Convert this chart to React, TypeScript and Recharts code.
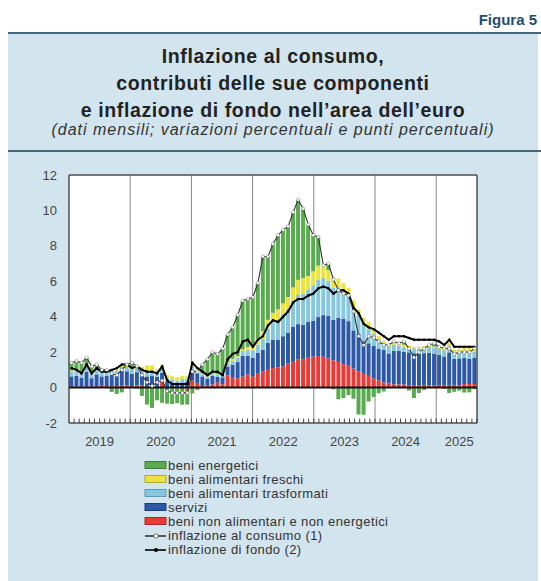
import React from "react";
import {
  ComposedChart,
  Bar,
  Line,
  XAxis,
  YAxis,
  CartesianGrid,
  ReferenceLine,
  ReferenceArea,
} from "recharts";

// anni e mesi coperti dal grafico (gen 2019 - set 2025)
const years = ["2019", "2020", "2021", "2022", "2023", "2024", "2025"];
const monthsPerYear = [12, 12, 12, 12, 12, 12, 9];
const yTicks = [-2, 0, 2, 4, 6, 8, 10, 12];

// contributi (punti percentuali), un valore per mese
const energetici = [
  0.44, 0.5, 0.53, 0.51, 0.36, 0.23, 0.05, 0.02, -0.25, -0.36, -0.27, 0.04,
  0.24, -0.06, -0.47, -0.96, -1.15, -0.72, -0.86, -0.88, -0.9, -0.85, -0.89, -0.83,
  -0.33, -0.13, 0.5, 0.96, 1.19, 1.14, 1.37, 1.54, 1.78, 2.33, 2.74, 2.71,
  2.71, 3.13, 4.21, 3.58, 3.88, 4.18, 4.15, 3.99, 4.25, 4.52, 3.92, 2.9,
  2.03, 1.62, 0.01, 0.36, -0.1, -0.66, -0.59, -0.43, -0.63, -1.52, -1.53, -0.79,
  -0.53, -0.32, -0.22, 0.03, 0.09, 0.0, 0.18, -0.17, -0.59, -0.31, -0.14, 0.02,
  0.19, -0.02, -0.07, -0.31, -0.24, -0.17, -0.28, -0.27, -0.09,
];
const freschi = [
  0.05, 0.06, 0.05, 0.04, 0.05, 0.07, 0.06, 0.08, 0.07, 0.1, 0.11, 0.1,
  0.12, 0.11, 0.16, 0.33, 0.3, 0.14, 0.18, 0.15, 0.16, 0.19, 0.19, 0.14,
  0.07, 0.07, 0.04, 0.03, 0.03, 0.03, 0.07, 0.09, 0.12, 0.09, 0.1, 0.18,
  0.29, 0.34, 0.43, 0.5, 0.54, 0.61, 0.61, 0.67, 0.72, 0.85, 0.88, 0.75,
  0.8, 0.8, 0.7, 0.62, 0.55, 0.55, 0.5, 0.48, 0.42, 0.32, 0.35, 0.36,
  0.3, 0.2, 0.1, 0.08, 0.1, 0.13, 0.14, 0.11, 0.08, 0.1, 0.1, 0.08,
  0.08, 0.13, 0.17, 0.17, 0.17, 0.18, 0.28, 0.3, 0.26,
];
const trasformati = [
  0.28, 0.27, 0.27, 0.26, 0.26, 0.25, 0.26, 0.25, 0.24, 0.22, 0.22, 0.24,
  0.27, 0.28, 0.28, 0.3, 0.3, 0.28, 0.25, 0.24, 0.24, 0.21, 0.2, 0.2,
  0.17, 0.15, 0.13, 0.11, 0.12, 0.12, 0.18, 0.21, 0.21, 0.24, 0.27, 0.31,
  0.42, 0.46, 0.62, 0.8, 0.97, 1.12, 1.24, 1.34, 1.5, 1.65, 1.75, 1.85,
  2.0, 2.1, 2.1, 1.98, 1.82, 1.68, 1.5, 1.4, 1.28, 1.08, 0.97, 0.83,
  0.68, 0.52, 0.4, 0.36, 0.34, 0.3, 0.26, 0.27, 0.27, 0.29, 0.3, 0.33,
  0.31, 0.34, 0.34, 0.35, 0.35, 0.34, 0.33, 0.34, 0.36,
];
const servizi = [
  0.55, 0.62, 0.5, 0.84, 0.45, 0.7, 0.53, 0.57, 0.66, 0.66, 0.84, 0.79,
  0.69, 0.74, 0.6, 0.55, 0.6, 0.55, 0.41, 0.32, 0.23, 0.18, 0.28, 0.32,
  0.6, 0.55, 0.55, 0.4, 0.48, 0.3, 0.4, 0.48, 0.74, 0.92, 1.17, 1.05,
  1.06, 1.15, 1.24, 1.52, 1.61, 1.56, 1.7, 1.75, 1.98, 1.98, 1.93, 2.02,
  2.02, 2.2, 2.35, 2.4, 2.3, 2.48, 2.57, 2.52, 2.16, 2.1, 1.84, 1.84,
  1.84, 1.79, 1.84, 1.7, 1.89, 1.89, 1.84, 1.89, 1.84, 1.79, 1.79, 1.84,
  1.79, 1.7, 1.61, 1.84, 1.47, 1.52, 1.47, 1.43, 1.47,
];
const nonAlimentari = [
  0.08, 0.05, 0.05, 0.05, 0.08, 0.05, 0.1, 0.08, 0.08, 0.08, 0.1, 0.13,
  0.08, 0.13, 0.13, 0.08, 0.05, 0.05, 0.42, -0.03, -0.03, -0.03, -0.08, -0.13,
  0.39, 0.26, 0.08, 0.1, 0.18, 0.31, 0.18, 0.68, 0.55, 0.52, 0.62, 0.75,
  0.62, 0.82, 0.9, 1.0, 1.1, 1.13, 1.2, 1.35, 1.45, 1.6, 1.62, 1.68,
  1.75, 1.78, 1.74, 1.64, 1.53, 1.45, 1.32, 1.23, 1.07, 0.92, 0.77, 0.66,
  0.51, 0.41, 0.28, 0.23, 0.18, 0.18, 0.18, 0.1, 0.1, 0.13, 0.15, 0.13,
  0.13, 0.15, 0.15, 0.15, 0.15, 0.13, 0.2, 0.2, 0.2,
];
// variazioni percentuali sui dodici mesi
const inflazioneConsumo = [
  1.4, 1.5, 1.4, 1.7, 1.2, 1.3, 1.0, 1.0, 0.8, 0.7, 1.0, 1.3,
  1.4, 1.2, 0.7, 0.3, 0.1, 0.3, 0.4, -0.2, -0.3, -0.3, -0.3, -0.3,
  0.9, 0.9, 1.3, 1.6, 2.0, 1.9, 2.2, 3.0, 3.4, 4.1, 4.9, 5.0,
  5.1, 5.9, 7.4, 7.4, 8.1, 8.6, 8.9, 9.1, 9.9, 10.6, 10.1, 9.2,
  8.6, 8.5, 6.9, 7.0, 6.1, 5.5, 5.3, 5.2, 4.3, 2.9, 2.4, 2.9,
  2.8, 2.6, 2.4, 2.4, 2.6, 2.5, 2.6, 2.2, 1.7, 2.0, 2.2, 2.4,
  2.5, 2.3, 2.2, 2.2, 1.9, 2.0, 2.0, 2.0, 2.2,
];
const inflazioneFondo = [
  1.1, 1.0, 0.8, 1.3, 0.8, 1.1, 0.9, 0.9, 1.0, 1.1, 1.3, 1.3,
  1.1, 1.2, 1.0, 0.9, 0.9, 0.8, 1.2, 0.4, 0.2, 0.2, 0.2, 0.2,
  1.4, 1.1, 0.9, 0.7, 0.9, 0.9, 0.7, 1.6, 1.9, 2.0, 2.6, 2.7,
  2.3, 2.7, 2.9, 3.5, 3.8, 3.7, 4.0, 4.3, 4.8, 5.0, 5.0, 5.2,
  5.3, 5.6, 5.7, 5.6, 5.3, 5.5, 5.5, 5.3, 4.5, 4.2, 3.6, 3.4,
  3.3, 3.1, 2.9, 2.7, 2.9, 2.9, 2.9, 2.8, 2.7, 2.7, 2.7, 2.7,
  2.7, 2.6, 2.4, 2.7, 2.3, 2.3, 2.3, 2.3, 2.3,
];

const FONT = '"Liberation Sans", Arial, Helvetica, sans-serif';

const legendItems = [
  { name: "beni energetici", fill: "#5aab4f", border: "#3d7f36", kind: "rect" },
  { name: "beni alimentari freschi", fill: "#ece23c", border: "#b3a82a", kind: "rect" },
  { name: "beni alimentari trasformati", fill: "#86c7de", border: "#5a9cb3", kind: "rect" },
  { name: "servizi", fill: "#2c58a6", border: "#1d3d78", kind: "rect" },
  { name: "beni non alimentari e non energetici", fill: "#e63b36", border: "#a82824", kind: "rect" },
  { name: "inflazione al consumo (1)", fill: "#fff", border: "#444", kind: "hollow" },
  { name: "inflazione di fondo (2)", fill: "#000", border: "#000", kind: "solid" },
];

// categorie mensili e posizioni degli anni
const months: string[] = [];
const yearStarts: number[] = [];
const yearMids: number[] = [];
let count = 0;
years.forEach((y, i) => {
  yearStarts.push(count);
  yearMids.push(count + monthsPerYear[i] / 2);
  for (let m = 1; m <= monthsPerYear[i]; m++) months.push(`${m}/${y}`);
  count += monthsPerYear[i];
});
const totalMonths = count;
const monthBounds = months.map((_, i) => i).slice(1);
const innerYTicks = yTicks.slice(1, -1);

const data = months.map((m, i) => ({
  m,
  energetici: energetici[i],
  freschi: freschi[i],
  trasformati: trasformati[i],
  servizi: servizi[i],
  nonAlimentari: nonAlimentari[i],
  consumo: inflazioneConsumo[i],
  fondo: inflazioneFondo[i],
}));

// impaginazione del grafico
const CHART_TOP = 160;
const CHART_W = 541;
const CHART_H = 300;
const MARGIN = { top: 15, right: 24, bottom: 12, left: 29 };
const Y_AXIS_W = 40;
const X_AXIS_H = 25;
const plotBox = {
  left: MARGIN.left + Y_AXIS_W,
  top: CHART_TOP + MARGIN.top,
  width: CHART_W - MARGIN.left - MARGIN.right - 2 * Y_AXIS_W,
  height: CHART_H - MARGIN.top - MARGIN.bottom - X_AXIS_H,
};
const GRID = "#888";
const GRID_HALF = 0.03; // mezzo spessore delle righe orizzontali, in punti

function LegendIcon({ item }: { item: (typeof legendItems)[number] }) {
  if (item.kind === "rect") {
    return (
      <svg width={24} height={10}>
        <rect x={1} y={1.5} width={21} height={7} fill={item.fill} stroke={item.border} strokeWidth={1} />
      </svg>
    );
  }
  if (item.kind === "hollow") {
    return (
      <svg width={24} height={10}>
        <line x1={1} y1={5} x2={22} y2={5} stroke="#333" strokeWidth={1.6} />
        <circle cx={12} cy={5} r={2.2} fill="#fff" stroke="#555" strokeWidth={0.8} />
      </svg>
    );
  }
  return (
    <svg width={24} height={10}>
      <line x1={1} y1={5} x2={22} y2={5} stroke="#000" strokeWidth={1.6} />
      <circle cx={12} cy={5} r={2} fill="#000" />
    </svg>
  );
}

// griglia disegnata in un grafico sottostante, così resta dietro le barre
function GridLayer() {
  const blank = () => "";
  return (
    <ComposedChart
      width={CHART_W}
      height={CHART_H}
      data={data}
      margin={MARGIN}
      style={{ position: "absolute", left: 0, top: CHART_TOP }}
    >
      <XAxis
        xAxisId="g"
        type="number"
        domain={[0, totalMonths]}
        ticks={yearStarts.slice(1)}
        interval={0}
        tickFormatter={blank}
        tickLine={false}
        axisLine={false}
        height={X_AXIS_H}
      />
      <YAxis
        yAxisId="g"
        domain={[-2, 12]}
        ticks={yTicks}
        interval={0}
        tickFormatter={blank}
        tickLine={false}
        axisLine={false}
        width={Y_AXIS_W}
      />
      <YAxis
        yAxisId="g2"
        orientation="right"
        domain={[-2, 12]}
        ticks={yTicks}
        tickFormatter={blank}
        tickLine={false}
        axisLine={false}
        width={Y_AXIS_W}
      />
      <YAxis
        yAxisId="gm"
        mirror
        domain={[-2, 12]}
        ticks={innerYTicks}
        interval={0}
        tickFormatter={blank}
        tickSize={plotBox.width}
        tickLine={{ stroke: GRID, strokeWidth: 1 }}
        axisLine={false}
        width={Y_AXIS_W}
      />
      <CartesianGrid xAxisId="g" yAxisId="g" stroke={GRID} strokeWidth={1} />
      {innerYTicks.map((t) => (
        <ReferenceArea
          key={`ga${t}`}
          xAxisId="g"
          yAxisId="g"
          x1={0}
          x2={totalMonths}
          y1={t - GRID_HALF}
          y2={t + GRID_HALF}
          fill={GRID}
          fillOpacity={1}
          stroke="none"
        />
      ))}
      <ReferenceLine xAxisId="g" yAxisId="g" x={12} stroke={GRID} strokeWidth={1} />
      <ReferenceLine xAxisId="g" yAxisId="g" x={24} stroke={GRID} strokeWidth={1} />
      <ReferenceLine xAxisId="g" yAxisId="g" x={36} stroke={GRID} strokeWidth={1} />
      <ReferenceLine xAxisId="g" yAxisId="g" x={48} stroke={GRID} strokeWidth={1} />
      <ReferenceLine xAxisId="g" yAxisId="g" x={60} stroke={GRID} strokeWidth={1} />
      <ReferenceLine xAxisId="g" yAxisId="g" x={72} stroke={GRID} strokeWidth={1} />
    </ComposedChart>
  );
}

export default function App() {
  const tickStyle = { fill: "#444", fontSize: 13, fontFamily: FONT };
  return (
    <div
      style={{
        position: "absolute",
        left: 0,
        top: 0,
        width: 541,
        height: 581,
        background: "#fff",
        fontFamily: FONT,
        overflow: "hidden",
      }}
    >
      <div style={{ position: "absolute", left: 8, top: 33, width: 530, height: 548, background: "#d2e4ee" }} />
      <div style={{ position: "absolute", left: 8, top: 32, width: 533, height: 2, background: "#45697a" }} />
      <div style={{ position: "absolute", left: 8, top: 150, width: 533, height: 2, background: "#45697a" }} />
      <div style={{ position: "absolute", background: "#fff", ...plotBox }} />
      <div
        style={{
          position: "absolute",
          right: 4,
          top: 11,
          fontSize: 15,
          fontWeight: "bold",
          color: "#1d4f72",
        }}
      >
        Figura 5
      </div>
      <div
        style={{
          position: "absolute",
          left: 8,
          width: 530,
          top: 43,
          textAlign: "center",
          fontSize: 19.5,
          letterSpacing: 0.6,
          lineHeight: "27px",
          fontWeight: "bold",
          color: "#222",
        }}
      >
        Inflazione al consumo,
        <br />
        contributi delle sue componenti
        <br />
        e inflazione di fondo nell’area dell’euro
      </div>
      <div
        style={{
          position: "absolute",
          left: 8,
          width: 530,
          top: 120,
          textAlign: "center",
          fontSize: 16,
          letterSpacing: 1,
          lineHeight: "20px",
          fontStyle: "italic",
          color: "#333",
        }}
      >
        (dati mensili; variazioni percentuali e punti percentuali)
      </div>

      <GridLayer />

      <ComposedChart
        width={CHART_W}
        height={CHART_H}
        data={data}
        stackOffset="sign"
        barCategoryGap="8%"
        margin={MARGIN}
        style={{ position: "absolute", left: 0, top: CHART_TOP }}
      >
        <XAxis
          xAxisId="year"
          type="number"
          domain={[0, totalMonths]}
          ticks={yearMids}
          interval={0}
          tickFormatter={(v: number) => years[yearMids.indexOf(v)]}
          tickLine={false}
          tickSize={0}
          tickMargin={14}
          axisLine={{ stroke: "#333" }}
          tick={tickStyle}
          height={X_AXIS_H}
        />
        <XAxis xAxisId="cat" dataKey="m" hide height={0} />
        <YAxis
          yAxisId="left"
          domain={[-2, 12]}
          ticks={yTicks}
          interval={0}
          tickLine={false}
          tickSize={0}
          tickMargin={12}
          axisLine={{ stroke: "#333" }}
          tick={tickStyle}
          width={Y_AXIS_W}
        />
        <YAxis
          yAxisId="right"
          orientation="right"
          domain={[-2, 12]}
          ticks={yTicks}
          interval={0}
          tickLine={false}
          tickSize={0}
          tickMargin={13}
          axisLine={{ stroke: "#333" }}
          tick={tickStyle}
          width={Y_AXIS_W}
        />

        <Bar xAxisId="cat" yAxisId="left" dataKey="nonAlimentari" name={legendItems[4].name} stackId="a" fill={legendItems[4].fill} isAnimationActive={false} />
        <Bar xAxisId="cat" yAxisId="left" dataKey="servizi" name={legendItems[3].name} stackId="a" fill={legendItems[3].fill} isAnimationActive={false} />
        <Bar xAxisId="cat" yAxisId="left" dataKey="trasformati" name={legendItems[2].name} stackId="a" fill={legendItems[2].fill} isAnimationActive={false} />
        <Bar xAxisId="cat" yAxisId="left" dataKey="freschi" name={legendItems[1].name} stackId="a" fill={legendItems[1].fill} isAnimationActive={false} />
        <Bar xAxisId="cat" yAxisId="left" dataKey="energetici" name={legendItems[0].name} stackId="a" fill={legendItems[0].fill} isAnimationActive={false} />

        {monthBounds.map((b) => (
          <ReferenceLine
            key={`mt${b}`}
            xAxisId="year"
            yAxisId="left"
            segment={[{ x: b, y: -2 }, { x: b, y: -1.75 }]}
            stroke="#444"
            strokeWidth={1}
          />
        ))}
        <ReferenceLine xAxisId="year" yAxisId="left" y={0} stroke="#111" strokeWidth={2} />
        <ReferenceLine xAxisId="year" yAxisId="left" y={12} stroke="#333" strokeWidth={1} />

        <Line
          xAxisId="cat"
          yAxisId="left"
          dataKey="fondo"
          name={legendItems[6].name}
          type="linear"
          stroke="#000"
          strokeWidth={2}
          dot={{ r: 1.2, fill: "#000", stroke: "none" }}
          isAnimationActive={false}
        />
        <Line
          xAxisId="cat"
          yAxisId="left"
          dataKey="consumo"
          name={legendItems[5].name}
          type="linear"
          stroke="#333"
          strokeWidth={1.1}
          dot={{ r: 1.6, fill: "#fff", stroke: "#555", strokeWidth: 0.4 }}
          isAnimationActive={false}
        />
      </ComposedChart>

      <div style={{ position: "absolute", left: 144, top: 458 }}>
        {legendItems.map((item) => (
          <div
            key={item.name}
            style={{
              display: "flex",
              alignItems: "center",
              height: 14.1,
              fontSize: 13,
              letterSpacing: 0.4,
              color: "#333",
            }}
          >
            <LegendIcon item={item} />
            <span>{item.name}</span>
          </div>
        ))}
      </div>
    </div>
  );
}
